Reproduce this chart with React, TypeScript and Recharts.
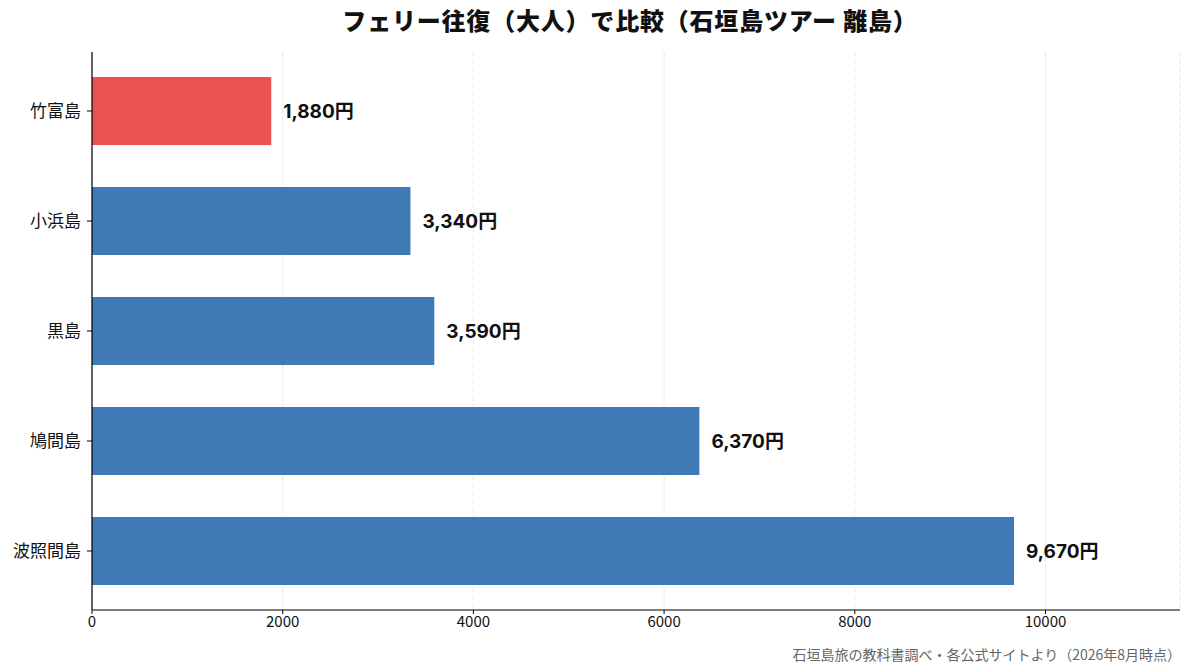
import React from "react";
import { BarChart, Bar, XAxis, YAxis, CartesianGrid, Cell, LabelList } from "recharts";

const islands = ["竹富島", "小浜島", "黒島", "鳩間島", "波照間島"];
const fares = [1880, 3340, 3590, 6370, 9670];
const barColors = ["#E85252", "#3F7AB6", "#3F7AB6", "#3F7AB6", "#3F7AB6"];
const xTicks = [0, 2000, 4000, 6000, 8000, 10000];
const titleText = "フェリー往復（大人）で比較（石垣島ツアー 離島）";
const sourceText = "石垣島旅の教科書調べ・各公式サイトより（2026年8月時点）";

const data = islands.map((name, i) => ({ name, fare: fares[i] }));
const FONT = "'Noto Sans CJK JP', 'Noto Sans', sans-serif";
const NUMFONT = "Inter, 'Noto Sans CJK JP', sans-serif";

export default function App() {
  return (
    <div style={{ position: "absolute", left: 0, top: 0, width: 1193, height: 672, background: "#fff", fontFamily: FONT }}>
      <div
        style={{
          position: "absolute",
          top: 3,
          left: 0,
          width: 1260,
          textAlign: "center",
          fontSize: 24,
          fontWeight: 900,
          color: "#111",
          lineHeight: "34px",
          letterSpacing: 0.8,
        }}
      >
        {titleText}
      </div>
      <BarChart
        width={1193}
        height={672}
        data={data}
        layout="vertical"
        margin={{ top: 52, right: 13, bottom: 32, left: 12 }}
        barCategoryGap={0}
      >
        <CartesianGrid horizontal={false} vertical={true} stroke="#e6e6e6" strokeDasharray="5 3" />
        <XAxis
          type="number"
          domain={[0, Math.max(...fares) * 1.18]}
          ticks={xTicks}
          axisLine={{ stroke: "#000", strokeWidth: 1.2 }}
          tickLine={{ stroke: "#000" }}
          tickSize={4}
          tick={{ fill: "#111", fontSize: 15, fontFamily: FONT }}
          height={30}
        />
        <YAxis
          type="category"
          dataKey="name"
          width={80}
          padding={{ top: 4, bottom: 4 }}
          axisLine={{ stroke: "#000", strokeWidth: 1.2 }}
          tickLine={{ stroke: "#000" }}
          tickSize={5}
          tickMargin={6}
          tick={{ fill: "#111", fontSize: 17, fontFamily: FONT }}
        />
        <Bar dataKey="fare" barSize={68} isAnimationActive={false}>
          {data.map((d, i) => (
            <Cell key={d.name} fill={barColors[i]} />
          ))}
          <LabelList
            dataKey="fare"
            position="right"
            offset={12}
            formatter={(v: number) => `${v.toLocaleString("en-US")}円`}
            style={{ fill: "#111", fontSize: 19, fontWeight: 700, fontFamily: NUMFONT }}
          />
        </Bar>
      </BarChart>
      <div
        style={{
          position: "absolute",
          right: 12,
          top: 644,
          fontSize: 14,
          color: "#666",
          lineHeight: "20px",
        }}
      >
        {sourceText}
      </div>
    </div>
  );
}
